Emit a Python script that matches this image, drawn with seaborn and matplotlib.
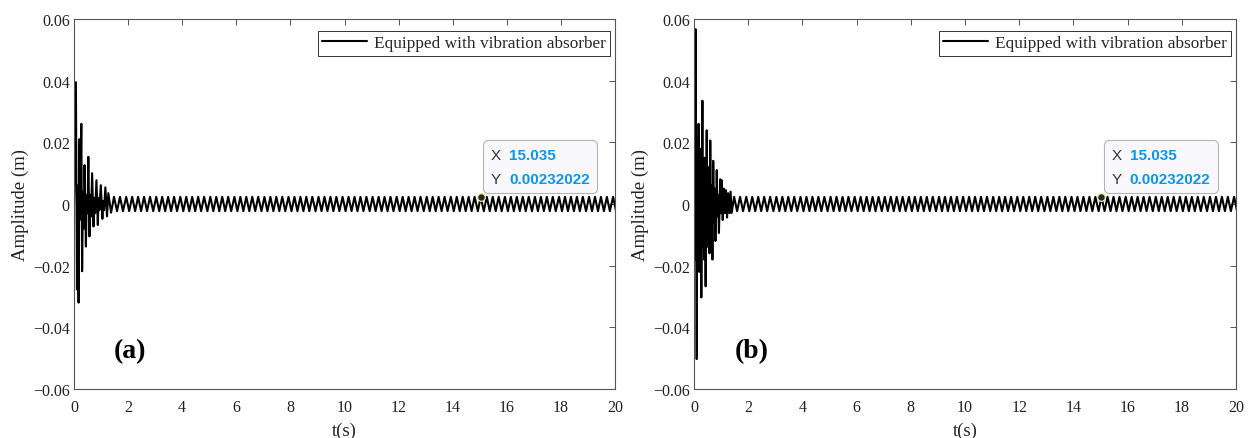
import matplotlib
matplotlib.use("Agg")
import matplotlib.pyplot as plt
import matplotlib.ticker as mticker
import numpy as np
import pandas as pd
import seaborn as sns
from matplotlib.offsetbox import TextArea, HPacker, VPacker, AnnotationBbox

# ---------------- data ----------------
panel_labels = ["(a)", "(b)"]
legend_label = "Equipped with vibration absorber"
x_ticks = [0, 2, 4, 6, 8, 10, 12, 14, 16, 18, 20]
y_ticks = [-0.06, -0.04, -0.02, 0.0, 0.02, 0.04, 0.06]

# transient extremes, panel (a)
trans_a_t = [0.00, 0.07, 0.11, 0.14, 0.17, 0.20, 0.23, 0.27, 0.30, 0.33,
             0.36, 0.39, 0.44, 0.47, 0.50, 0.53, 0.57, 0.60, 0.63, 0.67,
             0.72, 0.75, 0.78, 0.83, 0.88, 0.91, 0.94, 0.99, 1.05, 1.08,
             1.11, 1.16, 1.22, 1.27, 1.37]
trans_a_y = [0.0000, 0.0395, -0.0277, 0.0060, -0.0320, 0.0210, -0.0050, 0.0260, -0.0218, 0.0040,
             -0.0080, 0.0126, -0.0138, 0.0030, -0.0030, 0.0153, -0.0105, 0.0030, -0.0040, 0.0100,
             -0.0073, 0.0020, -0.0030, 0.0077, -0.0068, 0.0020, -0.0020, 0.0061, -0.0048, 0.0010,
             -0.0020, 0.0054, -0.0040, 0.0035, -0.0028]

# transient extremes, panel (b)
trans_b_t = [0.00, 0.02, 0.04, 0.06, 0.10, 0.12, 0.14, 0.17, 0.19, 0.21,
             0.23, 0.25, 0.27, 0.31, 0.33, 0.35, 0.37, 0.39, 0.43, 0.47,
             0.49, 0.51, 0.53, 0.55, 0.57, 0.60, 0.63, 0.65, 0.68, 0.71,
             0.74, 0.76, 0.79, 0.84, 0.87, 0.89, 0.92, 0.97, 1.00, 1.02,
             1.06, 1.10, 1.14, 1.18, 1.22, 1.26, 1.31, 1.35, 1.39]
trans_b_y = [0.0000, 0.0120, -0.0180, 0.0567, -0.0503, 0.0160, -0.0120, 0.0260, -0.0220, 0.0180,
             -0.0160, 0.0120, -0.0303, 0.0335, -0.0140, 0.0100, -0.0180, 0.0150, -0.0267, 0.0239,
             -0.0100, 0.0090, -0.0140, 0.0120, -0.0160, 0.0206, -0.0080, 0.0060, -0.0180, 0.0140,
             -0.0060, 0.0050, -0.0120, 0.0110, -0.0040, 0.0030, -0.0094, 0.0080, -0.0030, 0.0077,
             -0.0052, 0.0050, -0.0030, 0.0045, -0.0044, 0.0035, -0.0030, 0.0040, -0.0029]

# steady-state extremes (same in both panels)
steady_t = [
    1.48, 1.59, 1.70, 1.81, 1.93, 2.04, 2.15, 2.26, 2.37,
    2.48, 2.59, 2.70, 2.81, 2.93, 3.04, 3.15, 3.26, 3.37,
    3.48, 3.59, 3.70, 3.81, 3.93, 4.04, 4.15, 4.26, 4.37,
    4.48, 4.59, 4.70, 4.81, 4.93, 5.04, 5.15, 5.26, 5.37,
    5.48, 5.59, 5.70, 5.81, 5.93, 6.04, 6.15, 6.26, 6.37,
    6.48, 6.59, 6.70, 6.81, 6.93, 7.04, 7.15, 7.26, 7.37,
    7.48, 7.59, 7.70, 7.81, 7.93, 8.04, 8.15, 8.26, 8.37,
    8.48, 8.59, 8.70, 8.81, 8.93, 9.04, 9.15, 9.26, 9.37,
    9.48, 9.59, 9.70, 9.81, 9.93, 10.04, 10.15, 10.26, 10.37,
    10.48, 10.59, 10.70, 10.81, 10.93, 11.04, 11.15, 11.26, 11.37,
    11.48, 11.59, 11.70, 11.81, 11.93, 12.04, 12.15, 12.26, 12.37,
    12.48, 12.59, 12.70, 12.81, 12.93, 13.04, 13.15, 13.26, 13.37,
    13.48, 13.59, 13.70, 13.81, 13.93, 14.04, 14.15, 14.26, 14.37,
    14.48, 14.59, 14.70, 14.81, 14.93, 15.035, 15.15, 15.26, 15.37,
    15.48, 15.59, 15.70, 15.81, 15.93, 16.04, 16.15, 16.26, 16.37,
    16.48, 16.59, 16.70, 16.81, 16.93, 17.04, 17.15, 17.26, 17.37,
    17.48, 17.59, 17.70, 17.81, 17.93, 18.04, 18.15, 18.26, 18.37,
    18.48, 18.59, 18.70, 18.81, 18.93, 19.04, 19.15, 19.26, 19.37,
    19.48, 19.59, 19.70, 19.81, 19.93, 20.04,
]
steady_y = [
    0.00232, -0.00232, 0.00232, -0.00232, 0.00232, -0.00232, 0.00232, -0.00232, 0.00232,
    -0.00232, 0.00232, -0.00232, 0.00232, -0.00232, 0.00232, -0.00232, 0.00232, -0.00232,
    0.00232, -0.00232, 0.00232, -0.00232, 0.00232, -0.00232, 0.00232, -0.00232, 0.00232,
    -0.00232, 0.00232, -0.00232, 0.00232, -0.00232, 0.00232, -0.00232, 0.00232, -0.00232,
    0.00232, -0.00232, 0.00232, -0.00232, 0.00232, -0.00232, 0.00232, -0.00232, 0.00232,
    -0.00232, 0.00232, -0.00232, 0.00232, -0.00232, 0.00232, -0.00232, 0.00232, -0.00232,
    0.00232, -0.00232, 0.00232, -0.00232, 0.00232, -0.00232, 0.00232, -0.00232, 0.00232,
    -0.00232, 0.00232, -0.00232, 0.00232, -0.00232, 0.00232, -0.00232, 0.00232, -0.00232,
    0.00232, -0.00232, 0.00232, -0.00232, 0.00232, -0.00232, 0.00232, -0.00232, 0.00232,
    -0.00232, 0.00232, -0.00232, 0.00232, -0.00232, 0.00232, -0.00232, 0.00232, -0.00232,
    0.00232, -0.00232, 0.00232, -0.00232, 0.00232, -0.00232, 0.00232, -0.00232, 0.00232,
    -0.00232, 0.00232, -0.00232, 0.00232, -0.00232, 0.00232, -0.00232, 0.00232, -0.00232,
    0.00232, -0.00232, 0.00232, -0.00232, 0.00232, -0.00232, 0.00232, -0.00232, 0.00232,
    -0.00232, 0.00232, -0.00232, 0.00232, -0.00232, 0.00232, -0.00232, 0.00232, -0.00232,
    0.00232, -0.00232, 0.00232, -0.00232, 0.00232, -0.00232, 0.00232, -0.00232, 0.00232,
    -0.00232, 0.00232, -0.00232, 0.00232, -0.00232, 0.00232, -0.00232, 0.00232, -0.00232,
    0.00232, -0.00232, 0.00232, -0.00232, 0.00232, -0.00232, 0.00232, -0.00232, 0.00232,
    -0.00232, 0.00232, -0.00232, 0.00232, -0.00232, 0.00232, -0.00232, 0.00232, -0.00232,
    0.00232, -0.00232, 0.00232, -0.00232, 0.00232, -0.00232,
]

# data tip
tip_x = 15.035
tip_y = 0.00232022

# ---------------- styling ----------------
sns.set_theme(style="white")
plt.rcParams["font.family"] = ["Liberation Serif", "DejaVu Serif"]
plt.rcParams["axes.unicode_minus"] = True

W, H = 1249, 439
fig = plt.figure(figsize=(W / 100, H / 100), dpi=100)
fig.patch.set_facecolor("white")
ax_a = fig.add_axes([74 / W, 49 / H, 541 / W, 370 / H])
ax_b = fig.add_axes([694 / W, 49 / H, 542 / W, 370 / H])

spine_col = "#555555"
text_col = "#222222"
blue = "#0a96ee"
sans = ["Liberation Sans", "DejaVu Sans"]


def yfmt(v, pos):
    if abs(v) < 1e-12:
        return "0"
    return f"{v:.2f}".replace("-", "\u2212")


panels = [
    (ax_a, trans_a_t, trans_a_y, panel_labels[0], 2.07),
    (ax_b, trans_b_t, trans_b_y, panel_labels[1], 2.14),
]

for ax, tt, ty, plab, plab_x in panels:
    df = pd.DataFrame({"t": tt + steady_t, "y": ty + steady_y})
    sns.lineplot(data=df, x="t", y="y", ax=ax, color="black", linewidth=1.5,
                 estimator=None, sort=False, label=legend_label)
    ax.set_xlim(0, 20)
    ax.set_ylim(-0.06, 0.06)
    ax.set_xticks(x_ticks)
    ax.set_yticks(y_ticks)
    ax.yaxis.set_major_formatter(mticker.FuncFormatter(yfmt))
    ax.tick_params(direction="in", top=True, right=True, length=4.5, width=0.7,
                   color=spine_col, labelcolor=text_col, labelsize=11.5)
    ax.tick_params(axis="x", pad=7)
    ax.tick_params(axis="y", pad=3)
    for sp in ax.spines.values():
        sp.set_color(spine_col)
        sp.set_linewidth(0.8)
        sp.set_visible(True)
    ax.set_xlabel("t(s)", fontsize=13.5, color=text_col, labelpad=5)
    ax.set_ylabel("Amplitude (m)", fontsize=13.5, color=text_col, labelpad=3)
    ax.set_facecolor("white")

    leg = ax.legend(loc="upper right", bbox_to_anchor=(1 - 5 / 541, 1 - 12 / 370),
                    borderaxespad=0, frameon=True, fancybox=False, framealpha=1,
                    edgecolor="#333333", fontsize=12.4, handlelength=2.6,
                    borderpad=0.25, handletextpad=0.4)
    leg.get_frame().set_linewidth(0.7)

    ax.text(plab_x, -0.0477, plab, ha="center", va="center", fontsize=20,
            fontweight="bold", color="black")

    # data tip marker
    sns.scatterplot(x=[tip_x], y=[tip_y], ax=ax, s=30, color="#262626",
                    edgecolor="#e6e2a0", linewidth=0.9, zorder=6, legend=False)

    # data tip box
    tp_lbl = dict(color="#333333", fontsize=11, family=sans)
    tp_val = dict(color=blue, fontsize=11, fontweight="bold", family=sans)
    row1 = HPacker(children=[TextArea("X", textprops=tp_lbl),
                             TextArea(f"{tip_x:.3f}", textprops=tp_val)],
                   pad=0, sep=6, align="baseline")
    row2 = HPacker(children=[TextArea("Y", textprops=tp_lbl),
                             TextArea(f"{tip_y:.8f}", textprops=tp_val)],
                   pad=0, sep=6, align="baseline")
    box = VPacker(children=[row1, row2], pad=0, sep=7, align="left")
    ab = AnnotationBbox(box, (tip_x, tip_y), xybox=(7, 8), xycoords="data",
                        boxcoords="offset points", box_alignment=(0, 0),
                        frameon=True, pad=0.5,
                        bboxprops=dict(boxstyle="round,pad=0.5,rounding_size=0.35",
                                       fc="#f9f9fd", ec="#b4b4b4", lw=0.8))
    ab.set_zorder(5)
    ax.add_artist(ab)

fig.savefig("out.png", dpi=100, facecolor="white")
